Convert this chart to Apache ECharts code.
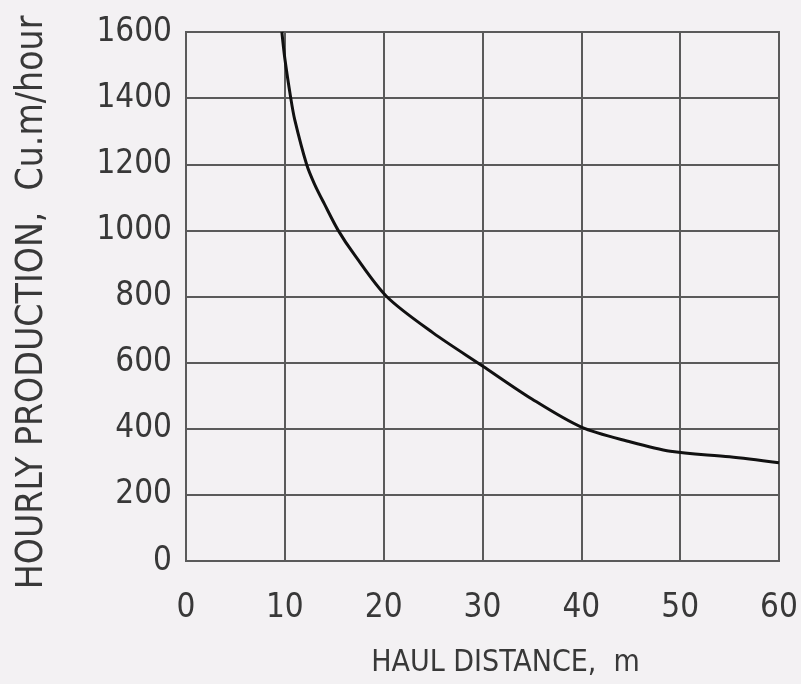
<!DOCTYPE html>
<html>
<head>
<meta charset="utf-8">
<title>Hourly production vs haul distance</title>
<script src="https://cdn.jsdelivr.net/npm/echarts@6/dist/echarts.min.js"></script>
<style>
  html, body { margin: 0; padding: 0; background: #f3f1f3; }
  #chart { width: 801px; height: 684px; }
</style>
</head>
<body>
<div id="chart"></div>
<script>
// Haul distance (m) and hourly production (cu.m/hour) along the curve
const haulDistance = [9.7, 10, 10.6, 11, 12.2, 13, 14, 15.4, 17, 20.3, 25, 30, 35, 40, 45, 49, 55, 60];
const production   = [1600, 1520, 1400, 1335, 1200, 1140, 1080, 1000, 928, 800, 690, 590, 490, 405, 360, 332, 315, 297];

const xTicks = { min: 0, max: 60, step: 10 };
const yTicks = { min: 0, max: 1600, step: 200 };

const xTitle = 'HAUL DISTANCE,  m';
const yTitle = 'HOURLY PRODUCTION,  Cu.m/hour';

const points = haulDistance.map((d, i) => [d, production[i]]);

const font = '"DejaVu Sans Condensed", "Liberation Sans Narrow", "DejaVu Sans", sans-serif';
const ink = '#383838';
const gridInk = '#5a5a5a';
const plain = v => String(v);

const chart = echarts.init(document.getElementById('chart'), null, { renderer: 'canvas' });
chart.setOption({
  backgroundColor: '#f3f1f3',
  animation: false,
  grid: {
    left: 186, right: 22, top: 32, bottom: 123,
    outerBoundsMode: 'none',
    containLabel: false,
    show: true, borderColor: gridInk, borderWidth: 2
  },
  xAxis: {
    type: 'value',
    min: xTicks.min, max: xTicks.max, interval: xTicks.step,
    name: xTitle,
    nameLocation: 'middle',
    nameGap: 87,
    nameTextStyle: { fontFamily: font, fontSize: 30, color: ink, padding: [0, 0, 0, 46] },
    axisLine: { show: true, lineStyle: { color: gridInk, width: 2 } },
    axisTick: { show: false },
    axisLabel: { fontFamily: font, fontSize: 33, color: ink, margin: 31, formatter: plain },
    splitLine: { show: true, lineStyle: { color: gridInk, width: 2 } }
  },
  yAxis: {
    type: 'value',
    min: yTicks.min, max: yTicks.max, interval: yTicks.step,
    name: yTitle,
    nameLocation: 'middle',
    nameGap: 135,
    nameRotate: 90,
    nameTextStyle: { fontFamily: font, fontSize: 37, color: ink, padding: [0, 12, 0, 0] },
    axisLine: { show: true, lineStyle: { color: gridInk, width: 2 } },
    axisTick: { show: false },
    axisLabel: { fontFamily: font, fontSize: 33, color: ink, margin: 14, formatter: plain },
    splitLine: { show: true, lineStyle: { color: gridInk, width: 2 } }
  },
  series: [{
    type: 'line',
    data: points,
    smooth: 0.3,
    showSymbol: false,
    lineStyle: { color: '#111', width: 3 }
  }]
});
</script>
</body>
</html>
